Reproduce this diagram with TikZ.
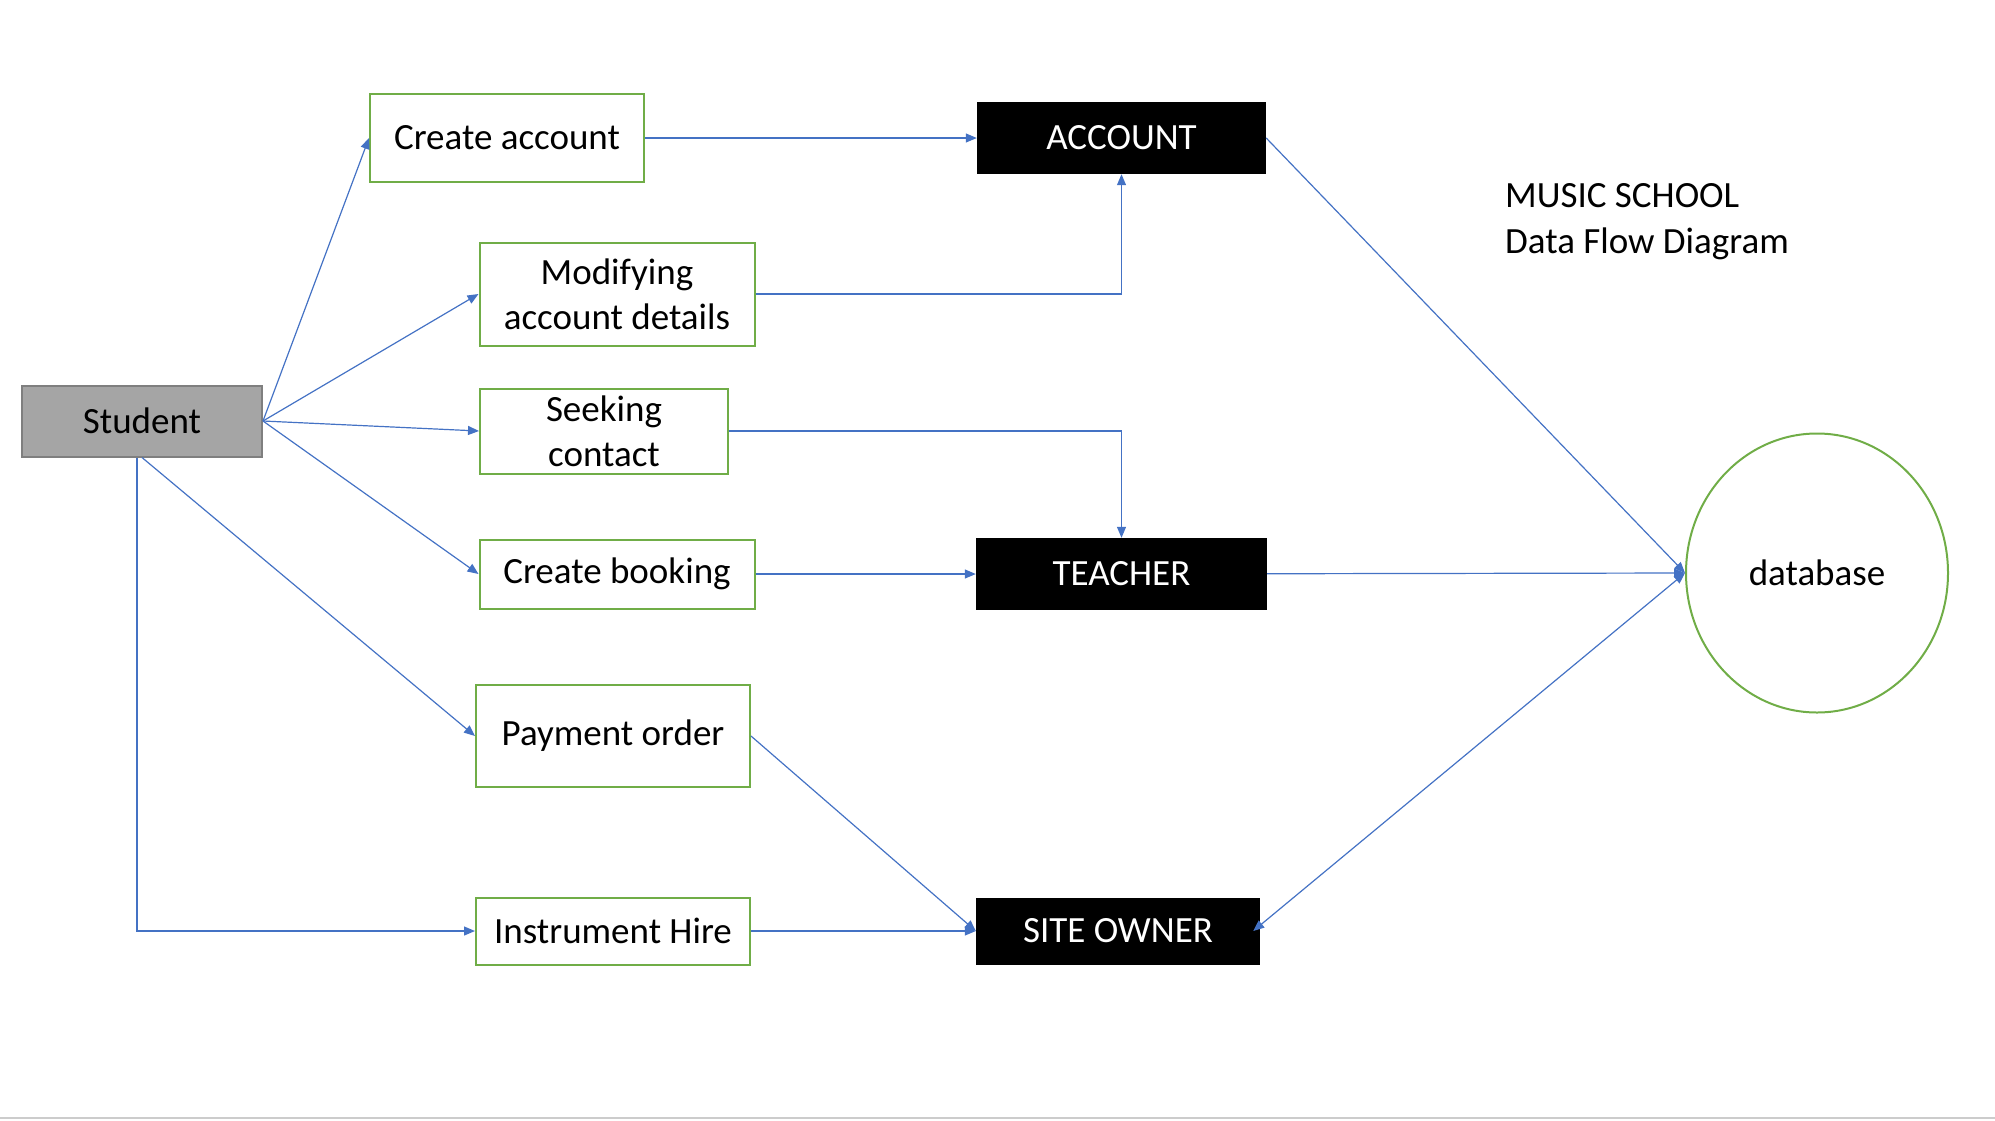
\documentclass[tikz,border=0pt]{standalone}
\usepackage{fontspec}
\setmainfont{Carlito}
\usepackage{tikz}
\usetikzlibrary{arrows.meta, positioning, shapes.geometric}

\definecolor{flowblue}{HTML}{4472C4}
\definecolor{procgreen}{HTML}{70AD47}
\definecolor{srcgray}{HTML}{A5A5A5}
\definecolor{srcedge}{HTML}{7F7F7F}

\tikzset{
    proc/.style = {draw=procgreen, line width=2pt, fill=white, align=center,
                   font=\fontsize{37}{45}\selectfont},
    entity/.style = {fill=black, text=white, minimum height=72pt,
                     font=\fontsize{37}{45}\selectfont},
    flow/.style = {draw=flowblue, line width=1.2pt, -{Triangle[length=11pt, width=9pt]}}
}

\begin{document}
\begin{tikzpicture} [x=1pt, y=-1pt, node distance = 100pt, on grid]
    \useasboundingbox (0,0) rectangle (1995,1120);

    \node (student) [draw=srcedge, line width=2pt, fill=srcgray, minimum width=240pt, minimum height=71pt,
                     font=\fontsize{37}{45}\selectfont] at (142,421) {Student};

    \node (create) [proc, minimum width=274pt, minimum height=88pt] at (507,138) {Create account};
    \node (modify) [proc, minimum width=275pt, minimum height=103pt] at (617,294) {Modifying\\account details};
    \node (seek) [proc, minimum width=248pt, minimum height=85pt] at (604,431) {Seeking\\contact};
    \node (booking) [proc, minimum width=275pt, minimum height=69pt] at (617,574) {Create booking};
    \node (payment) [proc, minimum width=274pt, minimum height=102pt] at (613,736) {Payment order};
    \node (hire) [proc, minimum width=274pt, minimum height=67pt] at (613,931) {Instrument Hire};

    \node (account) [entity, minimum width=289pt, right = 614.5pt of create] {ACCOUNT};
    \node (teacher) [entity, minimum width=291pt, right = 504.5pt of booking] {TEACHER};
    \node (owner) [entity, minimum width=284pt, minimum height=67pt, right = 505pt of hire] {SITE OWNER};

    \node (db) [ellipse, draw=procgreen, line width=2pt, minimum width=262pt, minimum height=279pt,
                font=\fontsize{37}{45}\selectfont] at (1817,573) {database};

    \node (title) [anchor=west, inner sep=0pt, align=left, font=\fontsize{37}{46}\selectfont]
        at (1505,222) {MUSIC SCHOOL\\Data Flow Diagram};

    \path [flow] (student.east) -- (create.west);
    \path [flow] (student.east) -- (modify.west);
    \path [flow] (student.east) -- (seek.west);
    \path [flow] (student.east) -- (booking.west);
    \path [flow] (student.south) -- (payment.west);
    \path [flow] ([xshift=-5pt]student.south) |- (hire.west);

    \path [flow] (create) -- (account);
    \path [flow] (modify.east) -| (account.south);
    \path [flow] (seek.east) -| (teacher.north);
    \path [flow] (booking) -- (teacher);
    \path [flow] (payment.east) -- (owner.west);
    \path [flow] (hire) -- (owner);

    \path [flow] (account.east) -- (db.west);
    \path [flow] (teacher) -- (db.west);
    \path [flow, {Triangle[length=11pt, width=9pt]}-{Triangle[length=11pt, width=9pt]}]
        ([xshift=-7pt]owner.east) -- (db.west);

    \draw [black!20, line width=2pt] (0,1118) -- (1995,1118);
\end{tikzpicture}
\end{document}
